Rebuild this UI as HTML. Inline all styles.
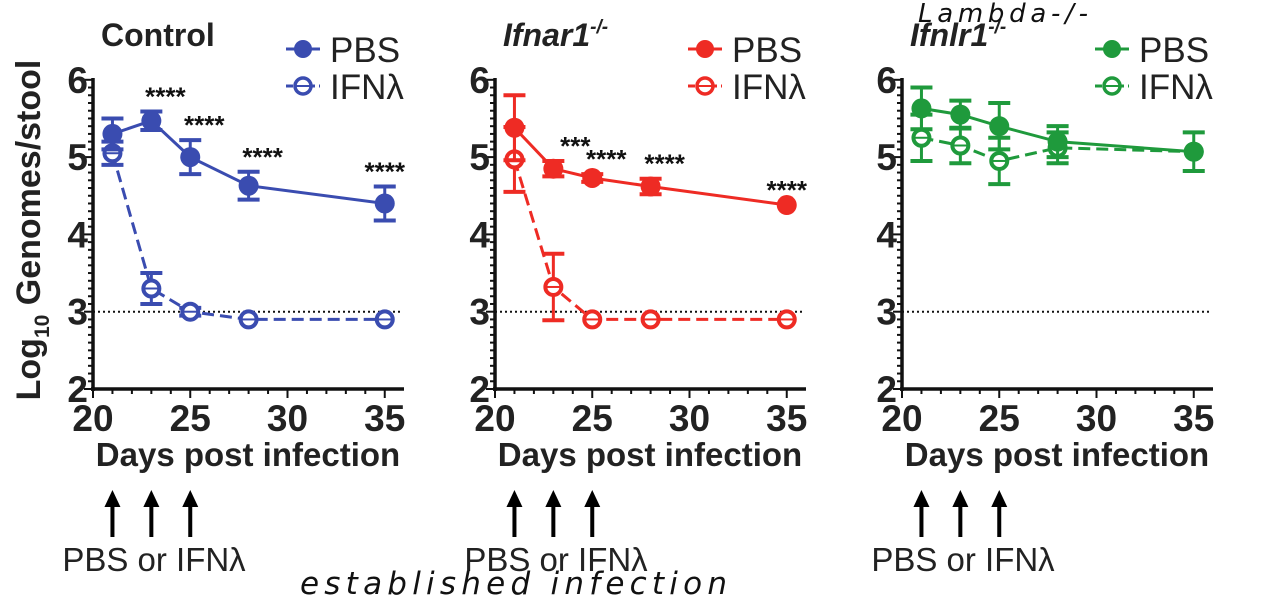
<!DOCTYPE html>
<html><head><meta charset="utf-8"><style>
body{margin:0;background:#fff;}
svg{display:block;font-family:"Liberation Sans",Arial,sans-serif;}
</style></head><body>
<svg id="c" width="1261" height="601" viewBox="0 0 1261 601"></svg>
<script>
const days=[21,23,25,28,35];
const xTicks=[20,25,30,35];
const yTicks=[2,3,4,5,6];
const pbs1=[5.3,5.47,5.0,4.63,4.4], pbs1Err=[0.2,0.12,0.22,0.18,0.22];
const ifn1=[5.05,3.3,3.0,2.9,2.9], ifn1Err=[0.15,0.2,0.05,0,0];
const pbs2=[5.38,4.85,4.73,4.62,4.38], pbs2Err=[0.42,0.1,0.05,0.1,0];
const ifn2=[4.97,3.32,2.9,2.9,2.9], ifn2Err=[0.42,0.43,0,0,0];
const pbs3=[5.63,5.55,5.4,5.2,5.07], pbs3Err=[0.27,0.18,0.3,0.2,0.25];
const ifn3=[5.25,5.15,4.95,5.12,5.07], ifn3Err=[0.3,0.23,0.3,0.2,0];
const sig1=["","****","****","****","****"];
const sig2=["","***","****","****","****"];
const sig3=["","","","",""];
const panels=[
 {x0:93,color:"#3a4cb0",pbs:pbs1,pe:pbs1Err,ifn:ifn1,ie:ifn1Err,sig:sig1,title:"Control",sup:"",ital:false,name:"control"},
 {x0:495,color:"#ee2b24",pbs:pbs2,pe:pbs2Err,ifn:ifn2,ie:ifn2Err,sig:sig2,title:"Ifnar1",sup:"-/-",ital:true,name:"ifnar1"},
 {x0:902,color:"#1f9a3c",pbs:pbs3,pe:pbs3Err,ifn:ifn3,ie:ifn3Err,sig:sig3,title:"Ifnlr1",sup:"-/-",ital:true,name:"ifnlr1"}
];
const svg=document.getElementById('c');
const NS="http://www.w3.org/2000/svg";
function mk(t,a,p){const e=document.createElementNS(NS,t);for(const k in a)e.setAttribute(k,a[k]);(p||svg).appendChild(e);return e;}
const yS=v=>389-(v-2)*77.3;
panels.forEach((P,pi)=>{
 const xS=d=>P.x0+(d-20)*19.45;
 const g=mk('g',{});
 
 
 const ya=mk('line',{x1:P.x0,y1:78,x2:P.x0,y2:391,stroke:'#111','stroke-width':3.5},g);
 
 const xa=mk('line',{x1:P.x0-2,y1:389,x2:P.x0+311,y2:389,stroke:'#111','stroke-width':3.5},g);
 
 for(let v=2;v<=6.001;v+=0.1){mk('line',{x1:P.x0-(Math.abs(v-Math.round(v))<0.01?9:5),y1:yS(v),x2:P.x0,y2:yS(v),stroke:'#111','stroke-width':2},g);}
 yTicks.forEach(v=>{const t=mk('text',{x:P.x0-5,y:yS(v)+13,'font-size':37,'font-weight':'bold','text-anchor':'end',fill:'#222'},g);t.textContent=v;
  });
 for(let d=20;d<=35;d++){mk('line',{x1:xS(d),y1:389,x2:xS(d),y2:389+(d%5==0?9:5),stroke:'#111','stroke-width':2},g);}
 xTicks.forEach(v=>{const t=mk('text',{x:xS(v),y:431,'font-size':37,'font-weight':'bold','text-anchor':'middle',fill:'#222'},g);t.textContent=v;
  });
 const xt=mk('text',{x:P.x0+155,y:466,'font-size':33,'font-weight':'bold','text-anchor':'middle',fill:'#222'},g);xt.textContent='Days post infection';
 
 const dl=mk('line',{x1:P.x0,y1:yS(3),x2:P.x0+308,y2:yS(3),stroke:'#111','stroke-width':2,'stroke-dasharray':'2 3'},g);
 
 const tt=mk('text',{x:P.x0+8,y:46,'font-size':32,'font-weight':'bold','font-style':P.ital?'italic':'normal',fill:'#222'},g);
 tt.textContent=P.title;
 if(P.sup){const s=mk('tspan',{'font-size':19,dy:-13},tt);s.textContent=P.sup;}
 
 const lx=P.x0+193;
 [["PBS",false,49],["IFNλ",true,86]].forEach(([lab,open,ly])=>{
  const lg=mk('g',{},g);
  
  mk('line',{x1:lx,y1:ly,x2:lx+34,y2:ly,stroke:P.color,'stroke-width':3,'stroke-dasharray':open?'7 4':'none'},lg);
  mk('circle',{cx:lx+17,cy:ly,r:open?8:9,fill:open?'#fff':P.color,stroke:P.color,'stroke-width':open?3.5:0},lg);
  if(open)mk('line',{x1:lx+10,y1:ly,x2:lx+24,y2:ly,stroke:P.color,'stroke-width':2},lg);
  const t=mk('text',{x:lx+44,y:ly+13,'font-size':35,fill:'#222'},lg);t.textContent=lab;
 });
 [[P.ifn,P.ie,true],[P.pbs,P.pe,false]].forEach(([vals,errs,open])=>{
  const sg=mk('g',{},g);
  
  const pts=days.map((d,i)=>xS(d)+','+yS(vals[i])).join(' ');
  mk('polyline',{points:pts,fill:'none',stroke:P.color,'stroke-width':3,'stroke-dasharray':open?'12 6':'none'},sg);
  days.forEach((d,i)=>{
   const x=xS(d),y=yS(vals[i]),e=errs[i];
   if(e>0){mk('line',{x1:x,y1:yS(vals[i]+e),x2:x,y2:yS(vals[i]-e),stroke:P.color,'stroke-width':3},sg);
    [vals[i]+e,vals[i]-e].forEach(v=>mk('line',{x1:x-11,y1:yS(v),x2:x+11,y2:yS(v),stroke:P.color,'stroke-width':4},sg));}
   const c=mk('circle',{cx:x,cy:y,r:open?8:10,fill:open?'#fff':P.color,stroke:P.color,'stroke-width':open?4:0},sg);
   
   if(open)mk('line',{x1:x-7,y1:y,x2:x+7,y2:y,stroke:P.color,'stroke-width':2},sg);
  });
 });
 days.forEach((d,i)=>{if(!P.sig[i])return;
  const top=P.pbs[i]+P.pe[i];
  const t=mk('text',{x:xS(d)+(i==4?0:(P.sig[i].length==3?22:14)),y:yS(top)-6,'font-size':26,'font-weight':'bold','text-anchor':'middle',fill:'#111'},g);t.textContent=P.sig[i];
  });
 [21,23,25].forEach(d=>{const x=xS(d);const a=mk('g',{},g);
  
  mk('line',{x1:x,y1:537,x2:x,y2:505,stroke:'#000','stroke-width':4},a);
  mk('polygon',{points:`${x-8},${507} ${x+8},${507} ${x},${490}`,fill:'#000'},a);});
 const at=mk('text',{x:P.x0+61,y:571,'font-size':33,'text-anchor':'middle',fill:'#222'},g);at.textContent='PBS or IFNλ';
 
});
const yt=mk('text',{x:0,y:0,'font-size':34,'font-weight':'bold','text-anchor':'middle',fill:'#222',transform:'translate(40,230) rotate(-90)'});
yt.textContent='Log';const sb=mk('tspan',{'font-size':21,dy:9},yt);sb.textContent='10';const rs=mk('tspan',{dy:-9},yt);rs.textContent=' Genomes/stool';

const h1=mk('text',{x:300,y:594,'font-size':31,fill:'#111','font-family':'"DejaVu Sans",sans-serif','letter-spacing':'3','font-style':'italic',textLength:430});
h1.textContent='established infection';
const h2=mk('text',{x:918,y:22,'font-size':26,fill:'#111','font-family':'"DejaVu Sans",sans-serif','font-style':'italic',textLength:170});
h2.textContent='Lambda-/-';
</script>
</body></html>
